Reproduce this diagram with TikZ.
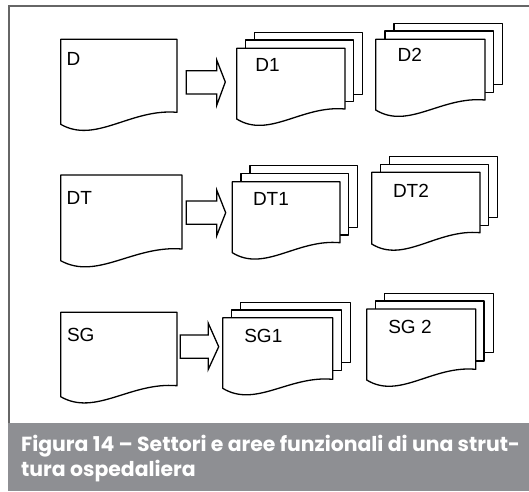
\documentclass[tikz,border=0pt]{standalone}
\usepackage{fontspec}
\setmainfont{Liberation Sans}
\newfontfamily\capfont{Poppins}
\definecolor{capgray}{HTML}{8E8F93}
\tikzset{
  page/.style={draw=black, fill=white, line width=1.3pt, line join=round},
  blockarrow/.style={draw=black, fill=white, line width=1.3pt, line join=miter},
  lbl/.style={font=\fontsize{19}{19}\selectfont, inner sep=0pt, anchor=base west},
  framel/.style={draw=black!60, line width=1.2pt},
  captxt/.style={font=\capfont\bfseries\fontsize{20.4}{20.4}\selectfont, text=white, inner sep=0pt, anchor=base west},
}
\newcommand\docsheet[5]{%
  \path[page] (#1,#2) -- (#3,#2) -- (#3,#4)
    .. controls ({#1+0.6*(#3-#1)},{#4-4}) and ({#1+0.3*(#3-#1)},{#5+20}) .. (#1,#5) -- cycle;}
\newcommand\backsheet[4]{\path[page] (#1,#2) rectangle (#3,#4);}
\newcommand\blockarr[8]{% x0 xh xtip y0 y1 ytop ybot ymid
  \path[blockarrow] (#1,#4) -- (#2,#4) -- (#2,#6) -- (#3,#8) -- (#2,#7) -- (#2,#5) -- (#1,#5) -- cycle;}
\begin{document}
\begin{tikzpicture}[x=1pt,y=-1pt]
\useasboundingbox (0,0) rectangle (529,491);
\fill[white] (0,0) rectangle (529,491);
% frame and caption band
\draw[framel] (9,423.3) -- (9,6) -- (529,6);
\fill[capgray] (7.5,423.3) rectangle (529,491);
\node[captxt] (cap1) at (21,451.7) {Figura 14 – Settori e aree funzionali di una strut-};
\node[captxt] (cap2) at (21,476) {tura ospedaliera};
% row 1
\docsheet{60.7}{39.3}{177}{112.3}{124.3}
\blockarr{186.3}{216.7}{225.3}{70.7}{94}{60}{105.3}{82}
\backsheet{254.3}{32.3}{362.3}{94.3}
\backsheet{245.7}{40}{353.3}{101.7}
\docsheet{236.7}{48.3}{345}{109}{119}
\backsheet{394}{23.3}{502.3}{84.3}
\backsheet{385}{31}{493.3}{92.3}
\docsheet{375.7}{39.3}{485}{100}{110}
% row 2
\docsheet{60.7}{175}{182}{249}{260.7}
\blockarr{186.3}{216.7}{225.7}{201}{224.3}{190}{235.7}{212.7}
\backsheet{250}{165.3}{357.3}{227.3}
\backsheet{241}{173.3}{348.7}{235}
\docsheet{232.3}{181.7}{340}{242.7}{252.7}
\backsheet{389.3}{156.7}{497.3}{217.7}
\backsheet{380.7}{164.3}{488.3}{225.7}
\docsheet{371.7}{172.3}{480}{232.7}{244}
% row 3
\docsheet{60.7}{312.3}{177}{385.7}{396.7}
\blockarr{180.3}{208.3}{218.7}{335}{358.3}{323.3}{369.3}{346.7}
\backsheet{240.7}{302.3}{350.7}{362.3}
\backsheet{231.7}{310}{341.7}{370.7}
\docsheet{222.7}{317.7}{332.7}{379.3}{388.3}
\backsheet{384.3}{293.3}{493.3}{352.7}
\backsheet{375.7}{301}{484}{361}
\docsheet{366.7}{309}{475.7}{369.3}{380}
% labels
\node[lbl] (d)   at (66.5,65)    {D};
\node[lbl] (d1)  at (255.2,71)   {D1};
\node[lbl] (d2)  at (397.5,61.7) {D2};
\node[lbl] (dt)  at (66.5,204)   {DT};
\node[lbl] (dt1) at (252.8,205.7) {DT1};
\node[lbl] (dt2) at (392.8,197.3) {DT2};
\node[lbl] (sg)  at (66.8,341.7) {SG};
\node[lbl] (sg1) at (244.1,342.3) {SG1};
\node[lbl] (sg2) at (388.1,333.3) {SG 2};
\end{tikzpicture}
\end{document}
